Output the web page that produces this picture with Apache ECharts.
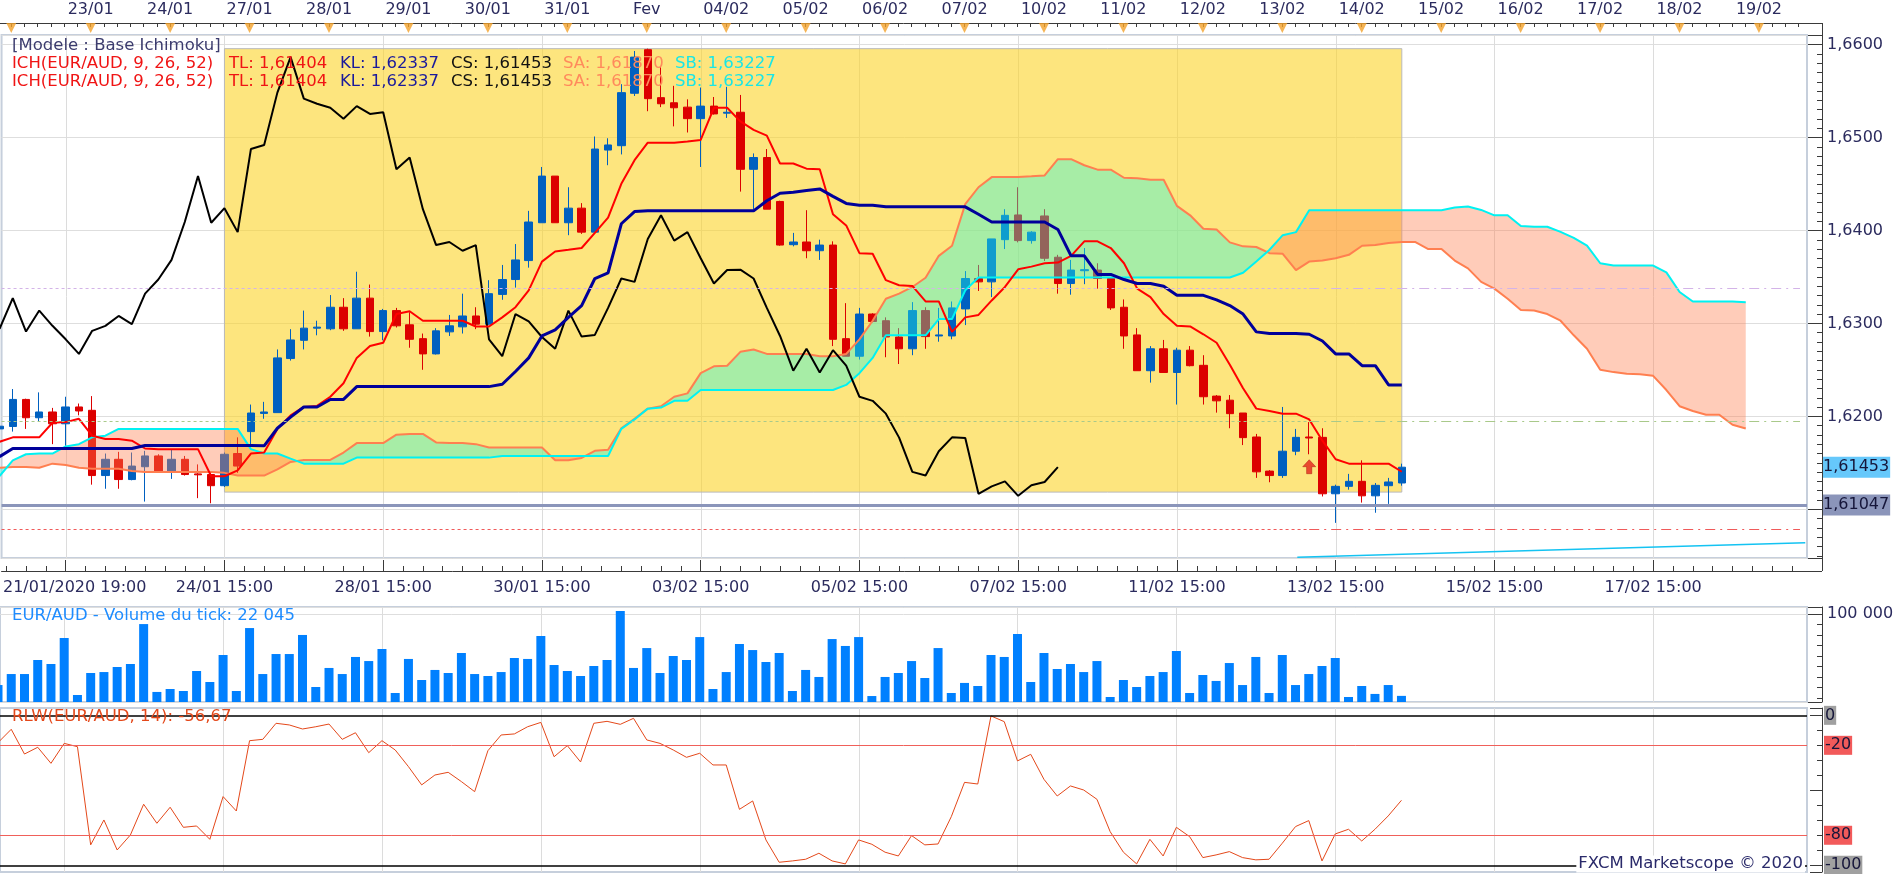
<!DOCTYPE html>
<html><head><meta charset="utf-8">
<script src="https://cdn.jsdelivr.net/npm/echarts@6.0.0/dist/echarts.min.js"></script>
<style>html,body{margin:0;padding:0;background:#fff}#c{width:1903px;height:874px}</style>
</head><body><div id="c"></div>
<script>
// ---------- DATA ----------
// candle index 0 = first visible 4H candle; values are [open, close, low, high]
const ohlc = [
[1.61865,1.61894,1.61854,1.61909],[1.61891,1.62182,1.61836,1.62294],[1.62182,1.61985,1.61865,1.62190],[1.61985,1.62047,1.61949,1.62258],[1.62047,1.61920,1.61701,1.62091],
[1.61920,1.62101,1.61683,1.62211],[1.62101,1.62058,1.62011,1.62138],[1.62065,1.61363,1.61265,1.62218],[1.61363,1.61538,1.61221,1.61600],[1.61538,1.61320,1.61221,1.61618],
[1.61320,1.61465,1.61312,1.61611],[1.61458,1.61574,1.61083,1.61629],[1.61574,1.61400,1.61392,1.61592],[1.61400,1.61538,1.61327,1.61647],[1.61538,1.61374,1.61363,1.61574],
[1.61381,1.61371,1.61120,1.61483],[1.61374,1.61254,1.61065,1.61392],[1.61254,1.61592,1.61240,1.61611],[1.61600,1.61465,1.61392,1.61774],[1.61836,1.62036,1.61647,1.62127],
[1.62032,1.62047,1.61974,1.62156],[1.62040,1.62629,1.62040,1.62720],[1.62622,1.62822,1.62600,1.62938],[1.62818,1.62949,1.62720,1.63138],[1.62949,1.62960,1.62872,1.63029],
[1.62942,1.63174,1.62927,1.63305],[1.63174,1.62942,1.62920,1.63272],[1.62942,1.63272,1.62942,1.63556],[1.63272,1.62912,1.62858,1.63418],[1.62912,1.63138,1.62818,1.63156],
[1.63138,1.62974,1.62956,1.63167],[1.62985,1.62829,1.62738,1.63120],[1.62836,1.62672,1.62501,1.62891],[1.62672,1.62920,1.62665,1.62949],[1.62909,1.62974,1.62865,1.63091],
[1.62963,1.63080,1.62891,1.63320],[1.63080,1.62992,1.62938,1.63174],[1.62992,1.63320,1.62985,1.63465],[1.63312,1.63472,1.63254,1.63629],[1.63472,1.63683,1.63385,1.63854],
[1.63676,1.64091,1.63600,1.64211],[1.64083,1.64585,1.64083,1.64683],[1.64585,1.64083,1.64083,1.64585],[1.64083,1.64240,1.63949,1.64465],[1.64240,1.63982,1.63963,1.64294],
[1.63982,1.64876,1.63982,1.65011],[1.64865,1.64920,1.64702,1.64992],[1.64912,1.65483,1.64818,1.65574],[1.65476,1.65865,1.65447,1.65931],[1.65945,1.65418,1.65283,1.65956],
[1.65429,1.65363,1.65327,1.65756],[1.65374,1.65320,1.65120,1.65556],[1.65327,1.65203,1.65054,1.65411],[1.65203,1.65338,1.64683,1.65538],[1.65338,1.65254,1.65247,1.65436],
[1.65262,1.65272,1.65211,1.65545],[1.65272,1.64658,1.64418,1.65458],[1.64658,1.64785,1.64229,1.64829],[1.64785,1.64229,1.64229,1.64876],[1.64312,1.63843,1.63836,1.64320],
[1.63847,1.63876,1.63829,1.63974],[1.63876,1.63782,1.63701,1.64218],[1.63782,1.63843,1.63683,1.63901],[1.63843,1.62829,1.62756,1.63883],[1.62836,1.62647,1.62647,1.63218],
[1.62647,1.63101,1.62611,1.63167],[1.63101,1.63021,1.63011,1.63109],[1.63029,1.62854,1.62636,1.63065],[1.62854,1.62727,1.62563,1.62949],[1.62727,1.63138,1.62658,1.63229],
[1.63138,1.62858,1.62727,1.63174],[1.62865,1.62876,1.62803,1.63167],[1.62865,1.63167,1.62829,1.63236],[1.63156,1.63483,1.62982,1.63563],[1.63483,1.63447,1.63349,1.63629],
[1.63447,1.63909,1.63283,1.63909],[1.63901,1.64163,1.63800,1.64229],[1.64167,1.63891,1.63872,1.64465],[1.63891,1.63982,1.63858,1.63992],[1.64156,1.63701,1.63672,1.64229],
[1.63712,1.63429,1.63320,1.63738],[1.63429,1.63574,1.63309,1.63683],[1.63567,1.63578,1.63422,1.63811],[1.63574,1.63483,1.63374,1.63647],[1.63483,1.63167,1.63145,1.63491],
[1.63174,1.62865,1.62727,1.63258],[1.62876,1.62491,1.62491,1.62949],[1.62491,1.62727,1.62363,1.62756],[1.62727,1.62472,1.62472,1.62822],[1.62472,1.62712,1.62127,1.62738],
[1.62712,1.62545,1.62538,1.62756],[1.62549,1.62211,1.62127,1.62658],[1.62218,1.62167,1.62040,1.62229],[1.62174,1.62029,1.61872,1.62229],[1.62036,1.61771,1.61691,1.62036],
[1.61778,1.61403,1.61338,1.61811],[1.61411,1.61363,1.61291,1.61421],[1.61363,1.61625,1.61338,1.62101],[1.61625,1.61774,1.61582,1.61865],[1.61778,1.61767,1.61592,1.61938],
[1.61774,1.61167,1.61138,1.61872],[1.61167,1.61247,1.60854,1.61265],[1.61247,1.61301,1.61211,1.61381],[1.61301,1.61145,1.61072,1.61527],[1.61145,1.61258,1.60963,1.61283],
[1.61254,1.61294,1.61058,1.61338],[1.61283,1.61453,1.61254,1.61491]
];

const tenkan = [
1.61727,1.61774,1.61774,1.61774,1.61931,1.61938,1.61974,1.61792,1.61756,1.61756,
1.61738,1.61654,1.61647,1.61647,1.61647,1.61647,1.61356,1.61356,1.61418,1.61600,
1.61611,1.61865,1.62011,1.62101,1.62112,1.62211,1.62356,1.62629,1.62756,1.62792,
1.63101,1.63131,1.63029,1.63029,1.63029,1.63029,1.62967,1.62967,1.63065,1.63174,
1.63356,1.63665,1.63774,1.63792,1.63811,1.63974,1.64138,1.64502,1.64756,1.64945,
1.64945,1.64945,1.64956,1.64974,1.65320,1.65320,1.65174,1.65083,1.65021,1.64720,
1.64720,1.64665,1.64658,1.64174,1.64054,1.63756,1.63749,1.63465,1.63411,1.63403,
1.63236,1.63236,1.62909,1.63065,1.63091,1.63247,1.63392,1.63582,1.63611,1.63647,
1.63654,1.63727,1.63883,1.63883,1.63811,1.63647,1.63374,1.63283,1.63101,1.62974,
1.62967,1.62883,1.62792,1.62556,1.62302,1.62083,1.62058,1.62029,1.62029,1.61967,
1.61738,1.61538,1.61491,1.61491,1.61491,1.61491,1.61404
];

const kijun = [
1.61567,1.61654,1.61654,1.61654,1.61654,1.61654,1.61654,1.61654,1.61654,1.61654,
1.61654,1.61687,1.61687,1.61687,1.61687,1.61687,1.61687,1.61687,1.61687,1.61687,
1.61683,1.61872,1.61992,1.62101,1.62101,1.62182,1.62182,1.62320,1.62320,1.62320,
1.62320,1.62320,1.62320,1.62320,1.62320,1.62320,1.62320,1.62320,1.62345,1.62483,
1.62629,1.62865,1.62931,1.63065,1.63192,1.63483,1.63545,1.64072,1.64203,1.64211,
1.64211,1.64211,1.64211,1.64211,1.64211,1.64211,1.64211,1.64211,1.64320,1.64400,
1.64411,1.64429,1.64447,1.64367,1.64291,1.64272,1.64272,1.64254,1.64254,1.64254,
1.64254,1.64254,1.64254,1.64254,1.64174,1.64091,1.64091,1.64091,1.64091,1.64091,
1.64011,1.63727,1.63727,1.63527,1.63527,1.63472,1.63429,1.63429,1.63400,1.63302,
1.63302,1.63302,1.63254,1.63192,1.63101,1.62909,1.62891,1.62891,1.62891,1.62883,
1.62811,1.62672,1.62672,1.62545,1.62545,1.62338,1.62337
];

const chikou = [
1.62942,1.63272,1.62912,1.63138,1.62974,1.62829,1.62672,1.62920,1.62974,1.63080,
1.62992,1.63320,1.63472,1.63683,1.64091,1.64585,1.64083,1.64240,1.63982,1.64876,
1.64920,1.65483,1.65865,1.65418,1.65363,1.65320,1.65203,1.65338,1.65254,1.65272,
1.64658,1.64785,1.64229,1.63843,1.63876,1.63782,1.63843,1.62829,1.62647,1.63101,
1.63021,1.62854,1.62727,1.63138,1.62858,1.62876,1.63167,1.63483,1.63447,1.63909,
1.64163,1.63891,1.63982,1.63701,1.63429,1.63574,1.63578,1.63483,1.63167,1.62865,
1.62491,1.62727,1.62472,1.62712,1.62545,1.62211,1.62167,1.62029,1.61771,1.61403,
1.61363,1.61625,1.61774,1.61767,1.61167,1.61247,1.61301,1.61145,1.61258,1.61294,
1.61453
];

const senkouA = [
1.61447,1.61454,1.61454,1.61447,1.61491,1.61476,1.61447,1.61436,1.61436,1.61436,
1.61411,1.61400,1.61400,1.61400,1.61400,1.61400,1.61400,1.61392,1.61363,1.61363,
1.61363,1.61429,1.61509,1.61531,1.61531,1.61531,1.61611,1.61712,1.61712,1.61712,
1.61803,1.61811,1.61811,1.61720,1.61712,1.61712,1.61701,1.61665,1.61665,1.61665,
1.61665,1.61665,1.61527,1.61527,1.61552,1.61629,1.61640,1.61872,1.61974,1.62083,
1.62109,1.62211,1.62247,1.62465,1.62538,1.62545,1.62694,1.62720,1.62672,1.62672,
1.62672,1.62672,1.62647,1.62647,1.62672,1.62829,1.63029,1.63265,1.63320,1.63392,
1.63491,1.63727,1.63836,1.64283,1.64465,1.64574,1.64574,1.64574,1.64582,1.64592,
1.64767,1.64767,1.64702,1.64654,1.64654,1.64567,1.64563,1.64545,1.64545,1.64265,
1.64163,1.64018,1.64011,1.63872,1.63829,1.63822,1.63756,1.63749,1.63574,1.63665,
1.63676,1.63701,1.63738,1.63836,1.63843,1.63865,1.63876,1.63876,1.63800,1.63800,
1.63676,1.63592,1.63447,1.63374,1.63265,1.63145,1.63138,1.63101,1.63029,1.62872,
1.62727,1.62501,1.62476,1.62458,1.62454,1.62436,1.62283,1.62109,1.62058,1.62018,
1.62018,1.61909,1.61870
];

const senkouB = [
1.61356,1.61527,1.61592,1.61600,1.61600,1.61676,1.61701,1.61774,1.61792,1.61865,
1.61865,1.61865,1.61865,1.61865,1.61865,1.61865,1.61865,1.61865,1.61865,1.61647,
1.61600,1.61600,1.61545,1.61491,1.61491,1.61491,1.61491,1.61556,1.61556,1.61556,
1.61556,1.61556,1.61556,1.61556,1.61556,1.61556,1.61556,1.61556,1.61574,1.61574,
1.61574,1.61574,1.61574,1.61574,1.61574,1.61574,1.61574,1.61865,1.61967,1.62083,
1.62094,1.62167,1.62167,1.62283,1.62283,1.62283,1.62283,1.62283,1.62283,1.62283,
1.62283,1.62283,1.62283,1.62283,1.62338,1.62465,1.62629,1.62872,1.62872,1.62872,
1.62872,1.63047,1.63047,1.63356,1.63494,1.63494,1.63494,1.63494,1.63494,1.63494,
1.63494,1.63494,1.63494,1.63494,1.63494,1.63494,1.63494,1.63494,1.63494,1.63494,
1.63494,1.63494,1.63494,1.63494,1.63545,1.63665,1.63792,1.63949,1.63982,1.64218,
1.64218,1.64218,1.64218,1.64218,1.64218,1.64218,1.64218,1.64218,1.64218,1.64218,
1.64247,1.64258,1.64221,1.64163,1.64163,1.64047,1.64040,1.64040,1.63985,1.63920,
1.63836,1.63647,1.63622,1.63622,1.63622,1.63622,1.63549,1.63338,1.63236,1.63236,
1.63236,1.63236,1.63227
];

const tickVolume = [
32400,42900,42900,56300,52500,77300,22900,43900,44800,49600,
52500,90600,25800,28600,26700,45800,35300,61100,26700,86800,
42900,62000,62000,80200,30500,48700,42900,59200,55300,66800,
24800,57300,37200,46800,43900,63000,42900,41000,44800,58200,
57300,79200,51500,45800,41000,50600,56300,103100,48700,67700,
43900,60100,56300,78200,28600,44800,71600,65800,54400,63000,
26700,46800,40100,76300,69700,78200,21900,40100,43900,55300,
39100,67700,24800,34400,31500,61100,59200,81100,35300,63000,
47700,52500,44800,55300,21000,37200,30500,41000,44800,64900,
24800,42000,36300,53400,32400,59200,24800,61100,32400,42900,
50600,58200,21000,31500,23900,32400,22045
];

const rlw = [
-18.2,-9.3,-25.8,-21.3,-32,-18.7,-20.9,-86.4,-69.8,-89.8,
-79.8,-59.3,-72,-61.3,-74.7,-73.8,-82.7,-54.2,-63.8,-16.9,
-16,-5.3,-6.4,-9.1,-7.6,-5.8,-16,-11.6,-24.9,-16.9,
-23.1,-34.2,-46.4,-39.8,-38,-44.2,-50.9,-23.6,-13.1,-12.4,
-7.6,-4.7,-27.6,-20.2,-31.1,-5.3,-4,-6,-2,-16.4,
-18.7,-23.1,-28,-25.3,-33.1,-33.1,-62.7,-57.1,-83.1,-98,
-97.1,-96,-92,-97.1,-99.1,-83.1,-86,-91.3,-93.8,-80.2,
-86.4,-85.8,-67.6,-44.7,-45.8,-0.4,-4.2,-30.4,-26,-42.7,
-53.8,-47.1,-49.8,-56,-77.6,-91.3,-99.1,-82.7,-93.8,-74.7,
-80.9,-94.9,-93.1,-90.9,-94.9,-96.4,-96,-85.3,-74.2,-70.2,
-97.1,-79.1,-76,-83.8,-76,-67.1,-56.67
];

// axis labels
const topDayIdx  = [1,7,13,19,25,31,37,43,49,55,61,67,73,79,85,91,97,103,109,115,121,127,133];
const topDayText = ['','23/01','24/01','27/01','28/01','29/01','30/01','31/01','Fev','04/02','05/02','06/02','07/02','10/02','11/02','12/02','13/02','14/02','15/02','16/02','17/02','18/02','19/02'];
const bottomTimeIdx  = [5,17,29,41,53,65,77,89,101,113,125];
const bottomTimeText = ['21/01/2020 19:00','24/01 15:00','28/01 15:00','30/01 15:00','03/02 15:00','05/02 15:00','07/02 15:00','11/02 15:00','13/02 15:00','15/02 15:00','17/02 15:00'];

// drawn objects on the price chart
const highlightBox = [17, 106, 1.61185, 1.65956];      // x from, x to, low, high
const levelValues = [1.63375, 1.61945, 1.60785];       // dotted price levels
const levelSplitIdx = 99, levelEndIdx = 136.1;
const supportLevel = 1.61047;
const trendLine = [[98.1, 1.60484], [136.5, 1.60641]];
const signalPoints = [[99, 1.61458]];
const rlwLevels = [0, -20, -80, -100];

// ---------- CHART ----------
const FONT = 'DejaVu Sans';
const X_MIN = 0.151, X_MAX = 136.63, GRID_W = 1807;
const fmt = (v, d) => v.toFixed(d).replace('.', ',');
const fmtThousands = v => String(Math.round(v)).replace(/\B(?=(\d{3})+(?!\d))/g, ' ');
const last = a => a[a.length - 1];
const axisColor = '#3a3a3a', labelColor = '#2b2b5e';
const topMap = {}; topDayIdx.forEach((k, i) => topMap[k] = topDayText[i]);
const botMap = {}; bottomTimeIdx.forEach((k, i) => botMap[k] = bottomTimeText[i]);
const everyCandle = []; for (let k = 0; k <= 136; k++) everyCandle.push(k);
const minorBottom = []; for (let v = 0.5; v < X_MAX; v += 1.5) minorBottom.push(v);

const upColor = '#0060c0', downColor = '#dc0000';
const cloudGreen = 'rgba(37,251,228,0.4)', cloudOrange = 'rgba(255,127,80,0.4)';

function gridCols(xi, yi, yRef) {
  return {
    type: 'custom', xAxisIndex: xi, yAxisIndex: yi, z: 0, silent: true, animation: false,
    data: bottomTimeIdx.map(k => [k, yRef]),
    renderItem(params, api) {
      const x = Math.round(api.coord([api.value(0), api.value(1)])[0]) + 0.5;
      const cs = params.coordSys;
      return {type: 'line', shape: {x1: x, y1: cs.y, x2: x, y2: cs.y + cs.height}, style: {stroke: '#dcdcdc', lineWidth: 1}};
    }
  };
}

function cloudRender(params, api) {
  const polys = [];
  let up = [], dn = [], sign = null;
  for (let k = 0; k < senkouA.length; k++) {
    const a = senkouA[k], b = senkouB[k], s = a >= b;
    if (sign === null) sign = s;
    else if (s !== sign) {
      const a0 = senkouA[k - 1], b0 = senkouB[k - 1];
      const d0 = a0 - b0, d1 = a - b, t = d0 / (d0 - d1);
      const xm = k - 1 + t, ym = a0 + (a - a0) * t;
      up.push([xm, ym]); dn.push([xm, ym]);
      polys.push({sign, up, dn});
      up = [[xm, ym]]; dn = [[xm, ym]];
      sign = s;
    }
    up.push([k, a]); dn.push([k, b]);
  }
  polys.push({sign, up, dn});
  return {
    type: 'group',
    children: polys.map(p => ({
      type: 'polygon',
      shape: {points: p.up.concat(p.dn.slice().reverse()).map(pt => api.coord(pt))},
      style: {fill: p.sign ? cloudGreen : cloudOrange}
    }))
  };
}

const labelBox = (text, bg) => ({
  show: true, position: 'end', distance: 15, formatter: text, color: '#16163a',
  fontSize: 16, fontFamily: FONT, backgroundColor: bg, padding: [3, 1, 2, 1]
});

const levelMarks = [];
const levelColors = ['#d3b3e8', '#a9c98a', '#f05a5a'];
levelValues.forEach((v, i) => {
  levelMarks.push([{coord: [X_MIN, v], lineStyle: {color: levelColors[i], type: [3, 3], width: 1}}, {coord: [levelSplitIdx, v]}]);
  levelMarks.push([{coord: [levelSplitIdx, v], lineStyle: {color: levelColors[i], type: [10, 5, 2, 5], width: 1}}, {coord: [levelEndIdx, v]}]);
});
levelMarks.push([{coord: trendLine[0], lineStyle: {color: '#14c3f2', width: 1.5, type: 'solid'}}, {coord: trendLine[1]}]);

const textFont = '16.5px "' + FONT + '"';
const txt = (x, y, text, fill) => ({type: 'text', x, y, z: 100, silent: true, style: {text, fill, font: textFont, verticalAlign: 'middle', align: 'left'}});
const legendRow = y => [
  txt(12, y, 'ICH(EUR/AUD, 9, 26, 52)', '#f01414'),
  txt(229, y, 'TL: ' + fmt(last(tenkan), 5), '#f01414'),
  txt(340, y, 'KL: ' + fmt(last(kijun), 5), '#1a1a9c'),
  txt(451, y, 'CS: ' + fmt(last(ohlc)[1], 5), '#111111'),
  txt(563, y, 'SA: ' + fmt(last(senkouA), 5), '#ff8a5c'),
  txt(675, y, 'SB: ' + fmt(last(senkouB), 5), '#19e6e6')
];

const option = {
  animation: false,
  backgroundColor: '#ffffff',
  textStyle: {fontFamily: FONT},
  grid: [
    {left: 0, top: 23, width: GRID_W, height: 10, show: false},
    {left: 0, top: 35, width: GRID_W, height: 523, show: true, borderColor: '#c6cfdc', borderWidth: 2},
    {left: 0, top: 607, width: GRID_W, height: 95, show: true, borderColor: '#c6cfdc', borderWidth: 2},
    {left: 0, top: 708, width: GRID_W, height: 164, show: true, borderColor: '#c6cfdc', borderWidth: 2}
  ],
  xAxis: [
    {gridIndex: 0, type: 'value', min: X_MIN, max: X_MAX, position: 'top',
     axisLine: {show: true, onZero: false, lineStyle: {color: axisColor}},
     axisTick: {show: true, inside: true, length: 4, customValues: everyCandle, lineStyle: {color: axisColor}},
     axisLabel: {show: true, customValues: topDayIdx, formatter: v => topMap[v] || '', color: labelColor, fontSize: 16, fontFamily: FONT, margin: 5},
     splitLine: {show: false}},
    {gridIndex: 1, type: 'value', min: X_MIN, max: X_MAX, position: 'bottom', offset: 13,
     axisLine: {show: true, onZero: false, lineStyle: {color: axisColor}},
     axisTick: {show: true, inside: true, length: 11, customValues: bottomTimeIdx, lineStyle: {color: axisColor}},
     axisLabel: {show: true, customValues: bottomTimeIdx,
       formatter: v => v === bottomTimeIdx[0] ? '{f|' + botMap[v] + '}' : (botMap[v] || ''),
       rich: {f: {padding: [0, 0, 0, 18], color: labelColor, fontSize: 16, fontFamily: FONT}},
       color: labelColor, fontSize: 16, fontFamily: FONT, margin: 9},
     splitLine: {show: false}},
    {gridIndex: 1, type: 'value', min: X_MIN, max: X_MAX, position: 'bottom', offset: 13,
     axisLine: {show: false, onZero: false},
     axisTick: {show: true, inside: true, length: 5, customValues: minorBottom, lineStyle: {color: axisColor}},
     axisLabel: {show: false}, splitLine: {show: false}},
    {gridIndex: 2, type: 'value', min: X_MIN, max: X_MAX, show: false},
    {gridIndex: 3, type: 'value', min: X_MIN, max: X_MAX, show: false}
  ],
  yAxis: [
    {gridIndex: 0, type: 'value', min: 0, max: 1, show: false},
    {gridIndex: 1, type: 'value', position: 'right', offset: 15, min: 1.60476, max: 1.66103, minInterval: 0.01, maxInterval: 0.01, scale: true,
     axisLine: {show: true, lineStyle: {color: axisColor}},
     axisTick: {show: true, inside: true, length: 14, lineStyle: {color: axisColor}},
     minorTick: {show: true, splitNumber: 10, length: 5, lineStyle: {color: axisColor}},
     axisLabel: {formatter: v => fmt(v, 4), showMinLabel: false, showMaxLabel: false, color: labelColor, fontSize: 16, fontFamily: FONT, margin: 5},
     splitLine: {show: true, lineStyle: {color: '#dedede'}}},
    {gridIndex: 2, type: 'value', position: 'right', offset: 15, min: 16200, max: 106900, minInterval: 100000, maxInterval: 100000,
     axisLine: {show: true, lineStyle: {color: axisColor}},
     axisTick: {show: true, inside: true, length: 14, lineStyle: {color: axisColor}},
     minorTick: {show: true, splitNumber: 10, length: 5, lineStyle: {color: axisColor}},
     axisLabel: {formatter: v => fmtThousands(v), showMinLabel: false, showMaxLabel: false, color: labelColor, fontSize: 16, fontFamily: FONT, margin: 5},
     splitLine: {show: true, lineStyle: {color: '#dedede'}}},
    {gridIndex: 3, type: 'value', position: 'right', offset: 15, min: -104.5, max: 4.9, minInterval: 50, maxInterval: 50,
     axisLine: {show: true, lineStyle: {color: axisColor}},
     axisTick: {show: true, inside: true, length: 12, lineStyle: {color: axisColor}},
     minorTick: {show: true, splitNumber: 5, length: 5, lineStyle: {color: axisColor}},
     axisLabel: {show: false}, splitLine: {show: false}}
  ],
  series: [
    gridCols(1, 1, 1.62),
    gridCols(3, 2, 50000),
    gridCols(4, 3, -50),
    {type: 'custom', name: 'box', xAxisIndex: 1, yAxisIndex: 1, z: 1, silent: true,
     data: [highlightBox],
     renderItem(params, api) {
       const p0 = api.coord([api.value(0), api.value(3)]);
       const p1 = api.coord([api.value(1), api.value(2)]);
       return {type: 'rect', shape: {x: p0[0], y: p0[1], width: p1[0] - p0[0], height: p1[1] - p0[1]},
               style: {fill: 'rgba(251,211,40,0.6)', stroke: '#b9b9b9', lineWidth: 1}};
     }},
    {type: 'candlestick', name: 'EUR/AUD', xAxisIndex: 1, yAxisIndex: 1, z: 2, barWidth: 8, clip: false,
     data: ohlc.map((r, k) => [k, r[0], r[1], r[2], r[3]]),
     itemStyle: {color: upColor, color0: downColor, borderColor: upColor, borderColor0: downColor, borderWidth: 1}},
    {type: 'custom', name: 'cloud', xAxisIndex: 1, yAxisIndex: 1, z: 3, silent: true, data: [[0, 1.62]], renderItem: cloudRender},
    {type: 'line', name: 'SA', xAxisIndex: 1, yAxisIndex: 1, z: 4, symbol: 'none', clip: false, data: senkouA.map((v, k) => [k, v]), lineStyle: {color: '#ff7f50', width: 2},
     markLine: {silent: true, symbol: ['none', 'none'], animation: false, precision: 5, label: {show: false},
       data: [
         {yAxis: supportLevel, lineStyle: {color: '#8b95ba', width: 3, type: 'solid'}, label: labelBox(fmt(supportLevel, 5), '#8b95ba')},
         {yAxis: last(ohlc)[1], lineStyle: {color: 'rgba(0,0,0,0)', width: 1, type: 'solid'}, label: labelBox(fmt(last(ohlc)[1], 5), '#66c8fb')}
       ]}},
    {type: 'line', name: 'SB', xAxisIndex: 1, yAxisIndex: 1, z: 4, symbol: 'none', data: senkouB.map((v, k) => [k, v]), lineStyle: {color: '#00f2f2', width: 2}},
    {type: 'line', name: 'CS', xAxisIndex: 1, yAxisIndex: 1, z: 4, symbol: 'none', data: chikou.map((v, k) => [k, v]), lineStyle: {color: '#000000', width: 2}},
    {type: 'line', name: 'TL', xAxisIndex: 1, yAxisIndex: 1, z: 4, symbol: 'none', data: tenkan.map((v, k) => [k, v]), lineStyle: {color: '#ff0000', width: 2}},
    {type: 'line', name: 'KL', xAxisIndex: 1, yAxisIndex: 1, z: 4, symbol: 'none', data: kijun.map((v, k) => [k, v]), lineStyle: {color: '#00009a', width: 3},
     markLine: {silent: true, symbol: ['none', 'none'], animation: false, precision: 5, label: {show: false}, data: levelMarks}},
    {type: 'scatter', name: 'signal', xAxisIndex: 1, yAxisIndex: 1, z: 5, silent: true,
     symbol: 'path://M5,0 L10,5 L7,5 L7,10 L3,10 L3,5 L0,5 Z', symbolSize: [13, 14],
     itemStyle: {color: '#e3231c', borderColor: '#a00000', borderWidth: 0.5}, data: signalPoints},
    {type: 'scatter', name: 'days', xAxisIndex: 0, yAxisIndex: 0, z: 5, silent: true, clip: false,
     symbol: 'triangle', symbolRotate: 180, symbolSize: [10, 10], itemStyle: {color: '#f2a12a'},
     data: topDayIdx.map(k => [k, 0.5])},
    {type: 'bar', name: 'Volume', xAxisIndex: 3, yAxisIndex: 2, z: 2, barWidth: 9, itemStyle: {color: '#0080ff'},
     data: tickVolume.map((v, k) => [k, v])},
    {type: 'line', name: 'RLW', xAxisIndex: 4, yAxisIndex: 3, z: 4, symbol: 'none', clip: false,
     data: rlw.map((v, k) => [k, v]), lineStyle: {color: '#e4481a', width: 1},
     markLine: {silent: true, symbol: ['none', 'none'], animation: false, precision: 5, label: {show: false},
       data: rlwLevels.map(v => {
         const edge = (v === 0 || v === -100);
         return {yAxis: v, lineStyle: {color: edge ? '#000000' : '#f0605a', width: edge ? 1.5 : 1, type: 'solid'},
                 label: Object.assign(labelBox(String(v), edge ? '#a0a0a0' : '#f25a5a'), {distance: 17, padding: [2, 1, 1, 1]})};
       })}}
  ],
  graphic: [
    txt(12, 46, '[Modele : Base Ichimoku]', '#3c3c6e'),
    ...legendRow(64),
    ...legendRow(82),
    txt(12, 616, 'EUR/AUD - Volume du tick: ' + fmtThousands(last(tickVolume)), '#1e8cff'),
    txt(12, 717, 'RLW(EUR/AUD, 14): ' + fmt(last(rlw), 2), '#e4481a'),
    {type: 'text', x: 1805, y: 864, z: 100, silent: true,
     style: {text: 'FXCM Marketscope \u00a9 2020', fill: '#2a2a6a', font: textFont, align: 'right', verticalAlign: 'middle', backgroundColor: '#ffffff', padding: [0, 2]}},
    {type: 'line', z: 50, silent: true, shape: {x1: 1807, y1: 23.5, x2: 1822, y2: 23.5}, style: {stroke: axisColor, lineWidth: 1}},
    {type: 'line', z: 50, silent: true, shape: {x1: 1822.5, y1: 23, x2: 1822.5, y2: 571}, style: {stroke: axisColor, lineWidth: 1}},
    {type: 'line', z: 50, silent: true, shape: {x1: 1807, y1: 571.5, x2: 1822, y2: 571.5}, style: {stroke: axisColor, lineWidth: 1}}
  ]
};

const chart = echarts.init(document.getElementById('c'), null, {renderer: 'canvas'});
chart.setOption(option);
</script></body></html>
